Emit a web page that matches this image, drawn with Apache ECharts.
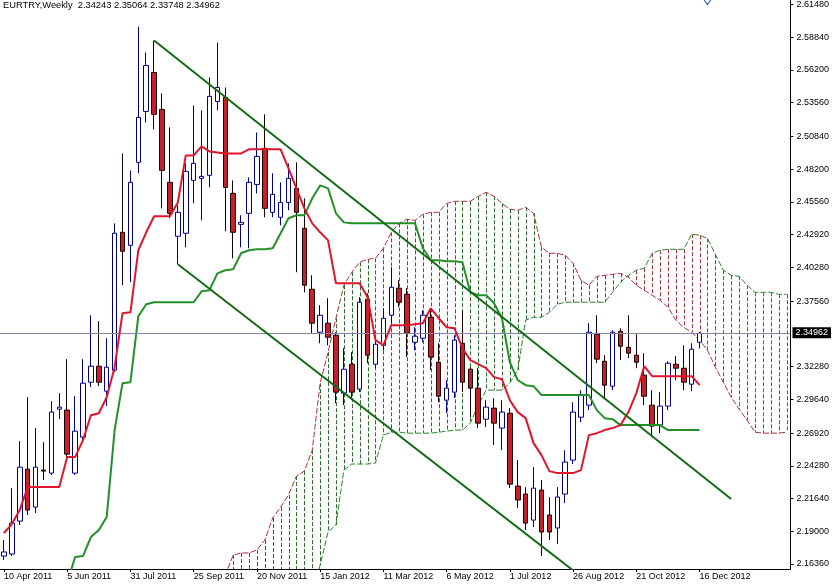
<!DOCTYPE html>
<html><head><meta charset="utf-8">
<script src="https://cdn.jsdelivr.net/npm/echarts@6/dist/echarts.min.js"></script>
<style>html,body{margin:0;padding:0;background:#fff}#c{width:832px;height:585px}</style>
</head><body><div id="c"></div>
<script>
const titleText = 'EURTRY,Weekly  2.34243 2.35064 2.33748 2.34962';
const lastPrice = 2.34962;
const categories = [
'10 Apr 2011','17 Apr 2011','24 Apr 2011','1 May 2011','8 May 2011','15 May 2011','22 May 2011','29 May 2011',
'5 Jun 2011','12 Jun 2011','19 Jun 2011','26 Jun 2011','3 Jul 2011','10 Jul 2011','17 Jul 2011','24 Jul 2011',
'31 Jul 2011','7 Aug 2011','14 Aug 2011','21 Aug 2011','28 Aug 2011','4 Sep 2011','11 Sep 2011','18 Sep 2011',
'25 Sep 2011','2 Oct 2011','9 Oct 2011','16 Oct 2011','23 Oct 2011','30 Oct 2011','6 Nov 2011','13 Nov 2011',
'20 Nov 2011','27 Nov 2011','4 Dec 2011','11 Dec 2011','18 Dec 2011','25 Dec 2011','1 Jan 2012','8 Jan 2012',
'15 Jan 2012','22 Jan 2012','29 Jan 2012','5 Feb 2012','12 Feb 2012','19 Feb 2012','26 Feb 2012','4 Mar 2012',
'11 Mar 2012','18 Mar 2012','25 Mar 2012','1 Apr 2012','8 Apr 2012','15 Apr 2012','22 Apr 2012','29 Apr 2012',
'6 May 2012','13 May 2012','20 May 2012','27 May 2012','3 Jun 2012','10 Jun 2012','17 Jun 2012','24 Jun 2012',
'1 Jul 2012','8 Jul 2012','15 Jul 2012','22 Jul 2012','29 Jul 2012','5 Aug 2012','12 Aug 2012','19 Aug 2012',
'26 Aug 2012','2 Sep 2012','9 Sep 2012','16 Sep 2012','23 Sep 2012','30 Sep 2012','7 Oct 2012','14 Oct 2012',
'21 Oct 2012','28 Oct 2012','4 Nov 2012','11 Nov 2012','18 Nov 2012','25 Nov 2012','2 Dec 2012','9 Dec 2012',
'16 Dec 2012','23 Dec 2012','30 Dec 2012','6 Jan 2013','13 Jan 2013','20 Jan 2013','27 Jan 2013','3 Feb 2013',
'10 Feb 2013','17 Feb 2013','24 Feb 2013','3 Mar 2013'];

const openP = [2.1700,2.1716,2.1982,2.2401,2.2095,2.2393,2.2369,2.2885,2.2877,2.2369,2.2659,
2.3102,2.3231,2.3030,2.3199,2.4311,2.4206,2.4875,2.5286,2.5600,2.5302,
2.4714,2.4279,2.4303,2.4730,2.4746,2.4770,2.5366,2.5398,2.4625,2.4375,
2.4464,2.4697,2.4988,2.4472,2.4432,2.4552,2.4665,2.4343,2.3852,2.3505,
2.3578,2.3481,2.3014,2.3247,2.3046,2.3771,2.3247,2.3400,2.3642,2.3860,
2.3811,2.3424,2.3457,2.3626,2.3263,2.2957,2.3022,2.3416,2.3207,2.3054,
2.2804,2.2893,2.2732,2.2852,2.2264,2.2200,2.1990,2.2232,2.2031,2.1926,
2.2200,2.2474,2.2820,2.2917,2.3489,2.3271,2.3070,2.3513,2.3384,2.3320,
2.3159,2.2917,2.2756,2.2909,2.3247,2.3215,2.3086,2.34243];
const closeP = [2.1733,2.1966,2.2417,2.2071,2.2417,2.2385,2.2861,2.2901,2.2522,2.2707,2.3094,
2.3231,2.3102,2.3223,2.4303,2.4158,2.4714,2.5237,2.5656,2.5262,2.4810,
2.4464,2.4472,2.4802,2.4867,2.4762,2.5407,2.5479,2.4673,2.4311,2.4391,
2.4714,2.4923,2.4504,2.4617,2.4552,2.4746,2.4472,2.3884,2.3578,2.3642,
2.3465,2.3022,2.3207,2.3022,2.3747,2.3320,2.3408,2.3618,2.3868,2.3747,
2.3497,2.3473,2.3642,2.3304,2.2989,2.3054,2.3441,2.3102,2.3054,2.2772,
2.2901,2.2772,2.2861,2.2280,2.2152,2.1966,2.2248,2.1894,2.1894,2.2176,
2.2458,2.2861,2.2998,2.3505,2.3288,2.3078,2.3505,2.3392,2.3336,2.3263,
2.2989,2.2748,2.2909,2.3255,2.3215,2.3102,2.3368,2.34962];
const lowP = [2.1668,2.1700,2.1950,2.2031,2.2047,2.2313,2.2353,2.2804,2.2490,2.2353,2.2635,
2.3062,2.3070,2.2909,2.3183,2.3884,2.3908,2.4786,2.5197,2.5141,2.4504,
2.4424,2.4053,2.4190,2.4544,2.4407,2.4673,2.5294,2.4319,2.4101,2.4190,
2.4182,2.4625,2.4432,2.4432,2.4367,2.4488,2.3989,2.3827,2.3497,2.3416,
2.3400,2.2933,2.2917,2.2957,2.3022,2.3255,2.3215,2.3360,2.3578,2.3707,
2.3304,2.3360,2.3424,2.3199,2.2941,2.2852,2.2973,2.3022,2.2820,2.2732,
2.2740,2.2595,2.2554,2.2248,2.2087,2.1910,2.1934,2.1700,2.1829,2.1797,
2.2127,2.2442,2.2780,2.2877,2.3255,2.2973,2.3038,2.3280,2.3296,2.3215,
2.2917,2.2659,2.2691,2.2877,2.3118,2.3038,2.3030,2.33748];
const highP = [2.1829,2.2248,2.2627,2.2981,2.2732,2.2619,2.2949,2.3014,2.3288,2.2989,2.3288,
2.3642,2.3594,2.3457,2.4383,2.4947,2.4810,2.5971,2.5761,2.5858,2.5431,
2.5157,2.4528,2.4867,2.5334,2.5294,2.5560,2.5842,2.5479,2.4730,2.4448,
2.4754,2.5116,2.5262,2.4786,2.4714,2.4867,2.4875,2.4585,2.3964,2.3723,
2.3779,2.3505,2.3376,2.3344,2.3787,2.3819,2.3481,2.3698,2.4029,2.3924,
2.3860,2.3545,2.3682,2.3698,2.3416,2.3118,2.3481,2.3682,2.3223,2.3215,
2.2957,2.2973,2.2957,2.2893,2.2474,2.2256,2.2417,2.2313,2.2176,2.2256,
2.2554,2.2941,2.3038,2.3578,2.3642,2.3320,2.3521,2.3537,2.3642,2.3489,
2.3336,2.3038,2.3022,2.3271,2.3312,2.3400,2.3416,2.35064];

const tenkan = [2.1886,2.1958,2.2071,2.2256,2.2256,2.2256,2.2256,2.2256,2.2498,2.2498,2.2635,
2.2836,2.2852,2.2981,2.3223,2.3658,2.3666,2.4166,2.4311,2.4440,2.4440,
2.4440,2.4552,2.4931,2.4931,2.5004,2.4963,2.4955,2.4947,2.4947,2.4947,
2.4980,2.4980,2.4980,2.4980,2.4980,2.4826,2.4665,2.4504,2.4383,2.4311,
2.4246,2.3900,2.3900,2.3900,2.3900,2.3787,2.3441,2.3400,2.3562,2.3562,
2.3562,2.3570,2.3578,2.3698,2.3618,2.3545,2.3537,2.3376,2.3280,2.3247,
2.3215,2.3143,2.3126,2.2957,2.2861,2.2812,2.2611,2.2514,2.2385,2.2369,
2.2369,2.2369,2.2393,2.2675,2.2691,2.2716,2.2732,2.2756,2.2861,2.3014,
2.3231,2.3151,2.3151,2.3151,2.3151,2.3151,2.3151,2.3078];
const kijun = [null,null,null,null,null,null,null,2.1346,2.1483,2.1692,2.1700,
2.1853,2.1910,2.2015,2.2716,2.3094,2.3102,2.3634,2.3731,2.3747,2.3747,
2.3747,2.3747,2.3747,2.3747,2.3835,2.3844,2.3980,2.4005,2.4013,2.4142,
2.4166,2.4174,2.4174,2.4182,2.4303,2.4424,2.4448,2.4448,2.4585,2.4689,
2.4665,2.4464,2.4391,2.4383,2.4383,2.4383,2.4383,2.4383,2.4383,2.4383,
2.4383,2.4383,2.4182,2.4085,2.4085,2.4077,2.4077,2.4069,2.3827,2.3803,
2.3803,2.3739,2.3618,2.3263,2.3118,2.3078,2.3070,2.2998,2.2998,2.2998,
2.2998,2.2998,2.2998,2.2998,2.2877,2.2812,2.2804,2.2756,2.2756,2.2756,
2.2756,2.2756,2.2756,2.2716,2.2716,2.2716,2.2716,2.2716];
const spanRed = [null,null,null,null,null,null,null,null,null,null,
null,null,null,null,null,null,null,null,null,null,
null,null,null,null,null,null,null,2.1426,2.1547,2.1708,
2.1725,2.1725,2.1749,2.1829,2.2007,2.2095,2.2192,2.2345,2.2385,2.2554,
2.3094,2.3344,2.3618,2.3884,2.3989,2.4069,2.4093,2.4101,2.4182,2.4311,
2.4383,2.4416,2.4407,2.4456,2.4472,2.4472,2.4544,2.4561,2.4561,2.4561,
2.4601,2.4633,2.4601,2.4544,2.4496,2.4488,2.4512,2.4464,2.4190,2.4142,
2.4142,2.4126,2.4061,2.3924,2.3884,2.3956,2.3964,2.3972,2.3980,2.3948,
2.3884,2.3844,2.3803,2.3763,2.3707,2.3602,2.3545,2.3505,2.3441,2.3360,
2.3223,2.3102,2.2981,2.2885,2.2796,2.2699,2.2691,2.2691,2.2691,2.2699];
const spanGreen = [null,null,null,null,null,null,null,null,null,null,
null,null,null,null,null,null,null,null,null,null,
null,null,null,null,null,null,null,2.1300,2.1300,2.1300,
2.1300,2.1300,2.1300,2.1300,2.1300,2.1300,2.1300,2.1300,2.1300,2.1346,
2.1628,2.1894,2.1950,2.2393,2.2442,2.2442,2.2442,2.2450,2.2675,2.2699,
2.2699,2.2691,2.2691,2.2691,2.2691,2.2699,2.2707,2.2716,2.2716,2.2772,
2.2917,2.3038,2.3038,2.3038,2.3094,2.3199,2.3602,2.3626,2.3626,2.3666,
2.3731,2.3747,2.3747,2.3747,2.3747,2.3747,2.3747,2.3827,2.3908,2.3964,
2.4005,2.4021,2.4142,2.4166,2.4174,2.4174,2.4174,2.4295,2.4287,2.4262,
2.4134,2.4005,2.3964,2.3956,2.3884,2.3827,2.3827,2.3827,2.3811,2.3811];
const upperChannel = [[19, 2.5858], [92, 2.2160]];
const lowerChannel = [[22, 2.4053], [73, 2.1535]];
const alertMark = [89, 2.6176];
const yTickLabels = ['2.61480','2.58840','2.56200','2.53560','2.50840','2.48200','2.45560','2.42920',
'2.40280','2.37560','2.32280','2.29640','2.26920','2.24280','2.21640','2.19000','2.16360'];
const yMin = 2.15956, yMax = 2.61802;

const candles = openP.map((o, i) => [o, closeP[i], lowP[i], highP[i]]);
const cloudUp = [], cloudDown = [];
spanRed.forEach((r, i) => {
  const g = spanGreen[i];
  if (r == null || g == null) return;
  if (r > g) cloudUp.push([i, r, g]); else cloudDown.push([i, g, r]);
});
const lastIdx = openP.length - 1;

const FONT = 'Liberation Sans';
const HATCH_G = '#2a6e2a', HATCH_R = '#b0303c';
function hatchSeries(name, data, color) {
  return {
    type: 'custom', name, clip: true, z: 1, data, encode: {x: 0, y: [1, 2]},
    renderItem: (params, api) => {
      const a = api.coord([api.value(0), api.value(1)]);
      const b = api.coord([api.value(0), api.value(2)]);
      const x = Math.round(a[0]) + 0.5;
      return {type: 'line', shape: {x1: x, y1: a[1], x2: x, y2: b[1]},
        style: {stroke: color, fill: null, lineWidth: 1, lineDash: [4, 2]}};
    }
  };
}
const chart = echarts.init(document.getElementById('c'), null, {renderer: 'canvas'});
chart.setOption({
  animation: false,
  backgroundColor: '#ffffff',
  title: {text: titleText, left: 3, top: 1, padding: 0,
    textStyle: {fontSize: 9.3, fontWeight: 'normal', color: '#000', fontFamily: FONT}},
  grid: {left: -6, right: 38, top: 0, bottom: 16},
  xAxis: {
    type: 'category', data: categories, boundaryGap: true,
    axisLine: {show: true, lineStyle: {color: '#000', width: 1}},
    axisTick: {show: true, alignWithLabel: true, length: 3, lineStyle: {color: '#000'},
      interval: (idx) => idx % 8 === 0 && idx <= lastIdx},
    axisLabel: {show: true, interval: (idx) => idx % 8 === 0 && idx <= lastIdx,
      align: 'left', margin: 3, fontSize: 9, color: '#000', fontFamily: FONT},
    splitLine: {show: false}
  },
  yAxis: {
    type: 'value', position: 'right', min: yMin, max: yMax, scale: true,
    axisLine: {show: true, lineStyle: {color: '#000', width: 1}},
    axisTick: {show: true, length: 3, customValues: yTickLabels.map(Number), lineStyle: {color: '#000'}},
    axisLabel: {show: true, customValues: yTickLabels.map(Number), margin: 6, fontSize: 9,
      color: '#000', fontFamily: FONT, formatter: (v) => v.toFixed(5)},
    splitLine: {show: false}
  },
  series: [
    hatchSeries('cloudUp', cloudUp, HATCH_G),
    hatchSeries('cloudDown', cloudDown, HATCH_R),
    {type: 'line', name: 'spanRed', data: spanRed, symbol: 'none', z: 2, clip: true,
      lineStyle: {color: '#b0303c', width: 1, type: [6, 2]}},
    {type: 'line', name: 'spanGreen', data: spanGreen, symbol: 'none', z: 2, clip: true,
      lineStyle: {color: '#2a862a', width: 1, type: [6, 2]}},
    {
      type: 'candlestick', name: 'EURTRY', data: candles, barWidth: 5, z: 3,
      itemStyle: {color: '#ffffff', color0: '#c8202a', borderColor: '#000090', borderColor0: '#1a0000', borderWidth: 1},
      markLine: {
        silent: true, symbol: 'none',
        lineStyle: {color: '#8484a4', width: 1, type: 'solid'},
        label: {position: 'end', formatter: () => lastPrice.toFixed(5), backgroundColor: '#000',
          color: '#fff', padding: [1, 3, 1, 3], fontSize: 9, fontFamily: FONT, distance: 2},
        data: [{yAxis: lastPrice}]
      },
      markPoint: {
        silent: true, symbol: 'triangle', symbolRotate: 180, symbolSize: [10, 7],
        itemStyle: {color: '#ffffff', borderColor: '#3a5ac8', borderWidth: 1},
        label: {show: false},
        data: [{coord: alertMark}]
      }
    },
    {type: 'line', name: 'kijun', data: kijun, symbol: 'none', z: 4, clip: true,
      lineStyle: {color: '#23902a', width: 2}},
    {type: 'line', name: 'tenkan', data: tenkan, symbol: 'none', z: 5, clip: true,
      lineStyle: {color: '#e0142a', width: 2}},
    {type: 'line', name: 'upperChannel', data: upperChannel, symbol: 'none', z: 6, clip: true,
      lineStyle: {color: '#136b13', width: 2}},
    {type: 'line', name: 'lowerChannel', data: lowerChannel, symbol: 'none', z: 6, clip: true,
      lineStyle: {color: '#136b13', width: 2}}
  ]
});
</script></body></html>
